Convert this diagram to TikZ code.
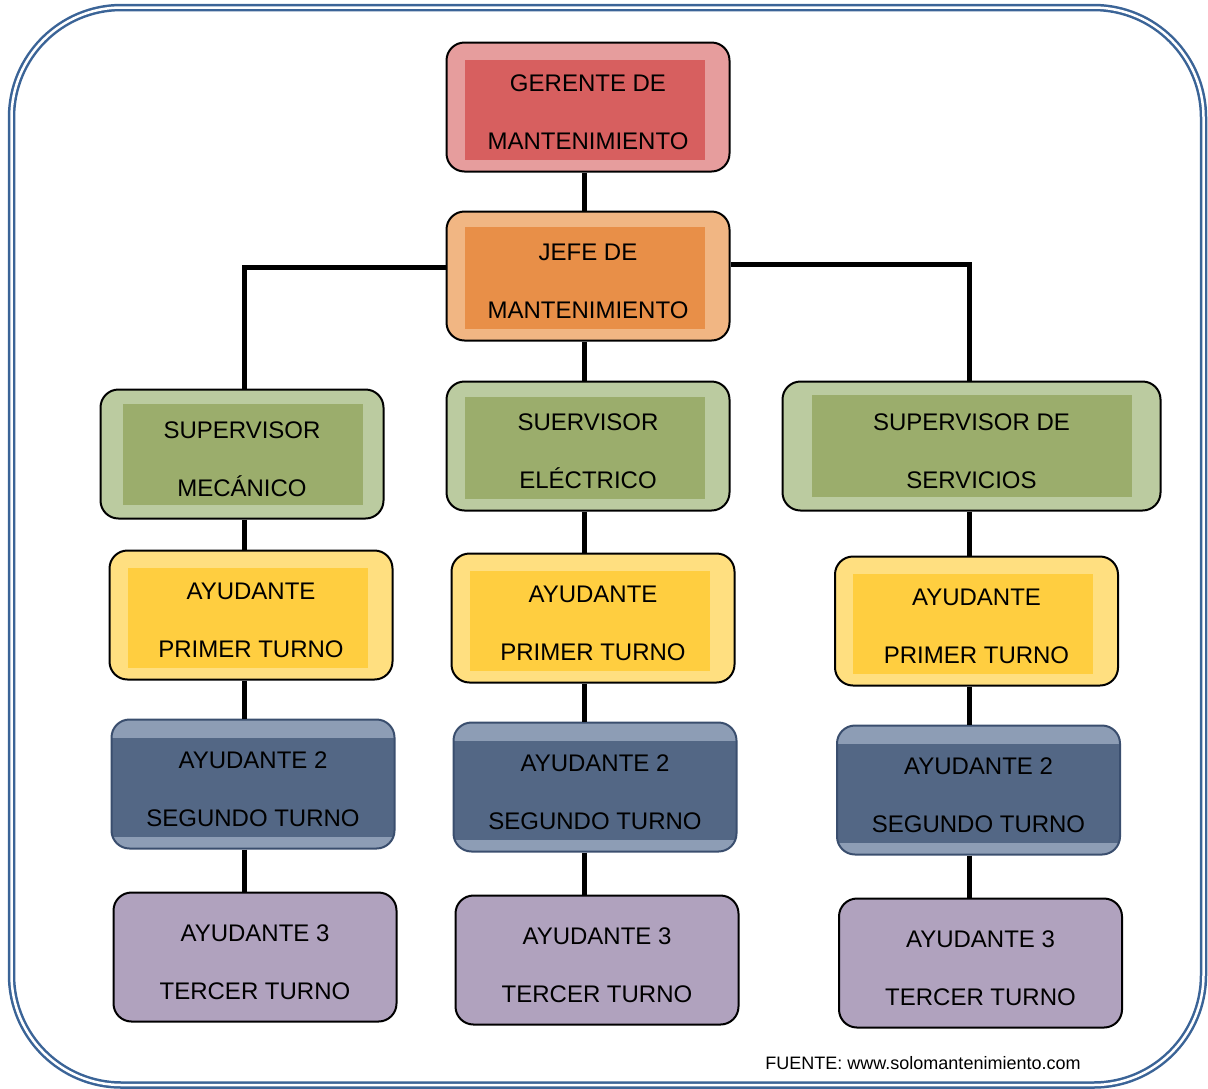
\documentclass[tikz,border=0pt]{standalone}
\usepackage{fontspec}
\setmainfont{Liberation Sans}
\usetikzlibrary{positioning}
\definecolor{gerL}{RGB}{230,157,157}
\definecolor{gerD}{RGB}{215,95,95}
\definecolor{jefL}{RGB}{241,182,131}
\definecolor{jefD}{RGB}{232,143,72}
\definecolor{supL}{RGB}{187,203,160}
\definecolor{supD}{RGB}{155,173,108}
\definecolor{ayuL}{RGB}{255,223,128}
\definecolor{ayuD}{RGB}{255,206,64}
\definecolor{segL}{RGB}{141,157,181}
\definecolor{segD}{RGB}{83,103,133}
\definecolor{segB}{RGB}{58,78,110}
\definecolor{terF}{RGB}{176,162,190}
\definecolor{frameblue}{RGB}{59,100,151}

\begin{document}
\begin{tikzpicture}[
    x=0.5pt, y=-0.5pt,
    card/.style  ={draw, line width=1pt, rounded corners=9pt, align=center,
                   minimum width=141.5pt, minimum height=64.5pt, inner sep=2pt,
                   font=\fontsize{12}{29}\selectfont, text height=43pt},
    panel/.style n args={5}{path picture={\fill[#1, sharp corners]
        ([xshift=#2, yshift=#4]path picture bounding box.south west) rectangle
        ([xshift=-#3, yshift=-#5]path picture bounding box.north east);}},
    gerbox/.style={card, fill=gerL, panel={gerD}{9pt}{12.5pt}{6pt}{8.5pt}},
    jefbox/.style={card, fill=jefL, panel={jefD}{9pt}{12.5pt}{6pt}{7.5pt}},
    supbox/.style={card, fill=supL},
    ayubox/.style={card, fill=ayuL, panel={ayuD}{9pt}{12.5pt}{6pt}{8.5pt}},
    segbox/.style={card, draw=segB, fill=segL, panel={segD}{0pt}{0pt}{6pt}{9pt}},
    terbox/.style={card, fill=terF},
    link/.style  ={line width=2.5pt},
    frame/.style ={draw=frameblue, line width=1.25pt, double=white,
                   double distance=1.25pt, rounded corners=55pt},
]
\useasboundingbox (0,0) rectangle (1208,1088);
\draw[frame] (11.5,7.5) rectangle (1203.5,1085);

% top of the chart
\node[gerbox] (gerente) at (588,107) {GERENTE DE\\MANTENIMIENTO};
\node[jefbox, below=19pt of gerente] (jefe) {JEFE DE\\MANTENIMIENTO};

% supervisors
\node[supbox, below=19.5pt of jefe, panel={supD}{9pt}{12.5pt}{6pt}{7.5pt}] (supe)
  {SUERVISOR\\ELÉCTRICO};
\node[supbox, left=30.5pt of supe, yshift=-4pt, panel={supD}{11pt}{10.5pt}{7pt}{7pt}] (supm)
  {SUPERVISOR\\MECÁNICO};
\node[supbox, right=25.5pt of supe, minimum width=189pt,
      panel={supD}{14.5pt}{14.5pt}{7pt}{6.5pt}] (sups)
  {SUPERVISOR DE\\SERVICIOS};

% helpers, first shift
\node[ayubox, below=15pt of supm, xshift=4.5pt] (ay1m) {AYUDANTE\\PRIMER TURNO};
\node[ayubox, below=20.5pt of supe, xshift=2.5pt] (ay1e) {AYUDANTE\\PRIMER TURNO};
\node[ayubox, below=22pt of sups, xshift=2.5pt] (ay1s) {AYUDANTE\\PRIMER TURNO};

% helpers, second shift
\node[segbox, below=19pt of ay1m, xshift=1pt] (ay2m) {AYUDANTE 2\\SEGUNDO TURNO};
\node[segbox, below=19pt of ay1e, xshift=1pt] (ay2e) {AYUDANTE 2\\SEGUNDO TURNO};
\node[segbox, below=19pt of ay1s, xshift=1pt] (ay2s) {AYUDANTE 2\\SEGUNDO TURNO};

% helpers, third shift
\node[terbox, below=21pt of ay2m, xshift=1pt] (ay3m) {AYUDANTE 3\\TERCER TURNO};
\node[terbox, below=21pt of ay2e, xshift=1pt] (ay3e) {AYUDANTE 3\\TERCER TURNO};
\node[terbox, below=21pt of ay2s, xshift=1pt] (ay3s) {AYUDANTE 3\\TERCER TURNO};

\node[font=\fontsize{9}{11}\selectfont] (fuente) at (923,1063)
  {FUENTE: www.solomantenimiento.com};

% connectors
\draw[link] ([xshift=-2pt]gerente.south) -- ([xshift=-2pt]jefe.north);
\draw[link] ([xshift=-2pt]jefe.south) -- ([xshift=-2pt]jefe.south |- supe.north);
\draw[link] ([yshift=4.5pt]jefe.west) -| ([xshift=1pt]supm.north);
\draw[link] ([yshift=6pt]jefe.east) -| ([xshift=-1pt]sups.north);
\foreach \sup/\a/\b/\c/\dx in {supm/ay1m/ay2m/ay3m/1pt, supe/ay1e/ay2e/ay3e/-2pt,
                               sups/ay1s/ay2s/ay3s/-1pt}{
  \draw[link] ([xshift=\dx]\sup.south) -- ([xshift=\dx]\sup.south |- \a.north);
  \draw[link] ([xshift=\dx]\sup.south |- \a.south) -- ([xshift=\dx]\sup.south |- \b.north);
  \draw[link] ([xshift=\dx]\sup.south |- \b.south) -- ([xshift=\dx]\sup.south |- \c.north);
}
\end{tikzpicture}
\end{document}
